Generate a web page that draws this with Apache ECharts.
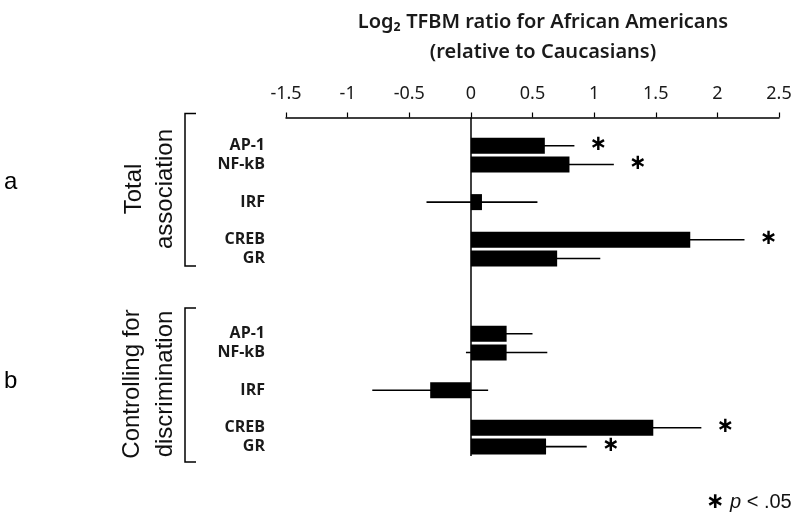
<!DOCTYPE html>
<html>
<head>
<meta charset="utf-8">
<script src="https://cdn.jsdelivr.net/npm/echarts@6/dist/echarts.min.js"></script>
<style>
html,body{margin:0;padding:0;background:#fff;}
#chart{width:800px;height:526px;}
</style>
</head>
<body>
<div id="chart"></div>
<script>
// Category slots (top to bottom); '' = spacer rows
var categories = ['', 'AP-1', 'NF-kB', '', 'IRF', '', 'CREB', 'GR', '', '', '', 'AP-1', 'NF-kB', '', 'IRF', '', 'CREB', 'GR'];
// Log2 TFBM ratio values (null for spacer rows)
var values = [null, 0.60, 0.80, null, 0.09, null, 1.78, 0.70, null, null, null, 0.29, 0.29, null, -0.33, null, 1.48, 0.61];
// Half-width of error bars
var errors = [null, 0.24, 0.36, null, 0.45, null, 0.44, 0.35, null, null, null, 0.21, 0.33, null, 0.47, null, 0.39, 0.33];
// Significance (p < .05)
var significant = [0, 1, 1, 0, 0, 0, 1, 0, 0, 0, 0, 0, 0, 0, 0, 0, 1, 1];
// X axis tick range
var xTicks = { min: -1.5, max: 2.5, step: 0.5 };

var errData = [];
for (var i = 0; i < categories.length; i++) {
  if (values[i] !== null) {
    errData.push([i, values[i] - errors[i], values[i] + errors[i], significant[i]]);
  }
}
var barData = values.map(function (v) { return v === null ? '-' : v; });

var chart = echarts.init(document.getElementById('chart'));
var option = {
  animation: false,
  backgroundColor: '#ffffff',
  title: {
    text: 'Log\u2082 TFBM ratio for African Americans\n(relative to Caucasians)',
    left: 538,
    top: 2,
    textAlign: 'center',
    textStyle: {
      fontFamily: 'Noto Sans',
      fontSize: 20,
      fontWeight: 600,
      color: '#1a1a1a',
      lineHeight: 30
    }
  },
  grid: { left: 286, right: 21, top: 117.5, bottom: 70, containLabel: false },
  xAxis: {
    type: 'value',
    position: 'top',
    min: xTicks.min,
    max: xTicks.max,
    interval: xTicks.step,
    splitLine: { show: false },
    axisLine: { show: true, onZero: false, lineStyle: { color: '#000', width: 1.5 } },
    axisTick: { show: true, length: 5, lineStyle: { color: '#000', width: 1.2 } },
    axisLabel: {
      margin: 15,
      fontFamily: 'Noto Sans',
      fontSize: 18,
      color: '#1a1a1a'
    }
  },
  yAxis: {
    type: 'category',
    inverse: true,
    data: categories.map(function (c, i) { return 's' + i; }),
    axisLine: { show: false, onZero: false },
    axisTick: { show: false },
    splitLine: { show: false },
    axisLabel: {
      margin: 21,
      interval: 0,
      fontFamily: 'Open Sans',
      fontSize: 16,
      fontWeight: 700,
      color: '#1a1a1a',
      formatter: function (v, idx) { return categories[idx]; }
    }
  },
  series: [
    {
      type: 'bar',
      data: barData,
      barWidth: 16,
      itemStyle: { color: '#000' },
      markLine: {
        silent: true,
        symbol: 'none',
        label: { show: false },
        lineStyle: { color: '#000', width: 1.5, type: 'solid' },
        data: [{ xAxis: 0 }]
      }
    },
    {
      type: 'custom',
      data: errData,
      encode: { x: [1, 2], y: 0 },
      renderItem: function (params, api) {
        var cat = api.value(0);
        var p1 = api.coord([api.value(1), cat]);
        var p2 = api.coord([api.value(2), cat]);
        var children = [{
          type: 'line',
          shape: { x1: p1[0], y1: p1[1], x2: p2[0], y2: p2[1] },
          style: { stroke: '#000', lineWidth: 1.6 }
        }];
        if (api.value(3)) {
          children.push({
            type: 'text',
            style: {
              x: p2[0] + 24,
              y: p2[1] - 1,
              text: '\u2217',
              fontFamily: 'DejaVu Sans',
              fontWeight: 'bold',
              fontSize: 21,
              fill: '#000',
              textAlign: 'center',
              textVerticalAlign: 'middle'
            }
          });
        }
        return { type: 'group', children: children };
      }
    }
  ],
  graphic: [
    { type: 'text', left: 4, top: 170, style: { text: 'a', fontFamily: 'Liberation Sans', fontSize: 24, fill: '#000' } },
    { type: 'text', left: 4, top: 369, style: { text: 'b', fontFamily: 'Liberation Sans', fontSize: 24, fill: '#000' } },
    {
      type: 'text', x: 150, y: 189, rotation: Math.PI / 2,
      style: { text: 'Total\nassociation', fontFamily: 'Liberation Sans', fontSize: 24, lineHeight: 31, fill: '#111', textAlign: 'center', textVerticalAlign: 'middle' }
    },
    {
      type: 'text', x: 149, y: 384, rotation: Math.PI / 2,
      style: { text: 'Controlling for\ndiscrimination', fontFamily: 'Liberation Sans', fontSize: 24, lineHeight: 33, fill: '#111', textAlign: 'center', textVerticalAlign: 'middle' }
    },
    {
      type: 'polyline',
      shape: { points: [[196, 113.5], [185, 113.5], [185, 266], [196, 266]] },
      style: { stroke: '#000', lineWidth: 1.5, fill: null }
    },
    {
      type: 'polyline',
      shape: { points: [[196, 308], [185, 308], [185, 462], [196, 462]] },
      style: { stroke: '#000', lineWidth: 1.5, fill: null }
    },
    {
      type: 'text', left: 706, top: 491,
      style: {
        text: '{s|\u2217} {i|p} < .05',
        fontFamily: 'Liberation Sans', fontSize: 20, fill: '#111',
        rich: {
          s: { fontFamily: 'DejaVu Sans', fontWeight: 'bold', fontSize: 22, fill: '#000' },
          i: { fontFamily: 'Liberation Sans', fontStyle: 'italic', fontSize: 20, fill: '#111' }
        }
      }
    }
  ]
};
chart.setOption(option);
</script>
</body>
</html>
